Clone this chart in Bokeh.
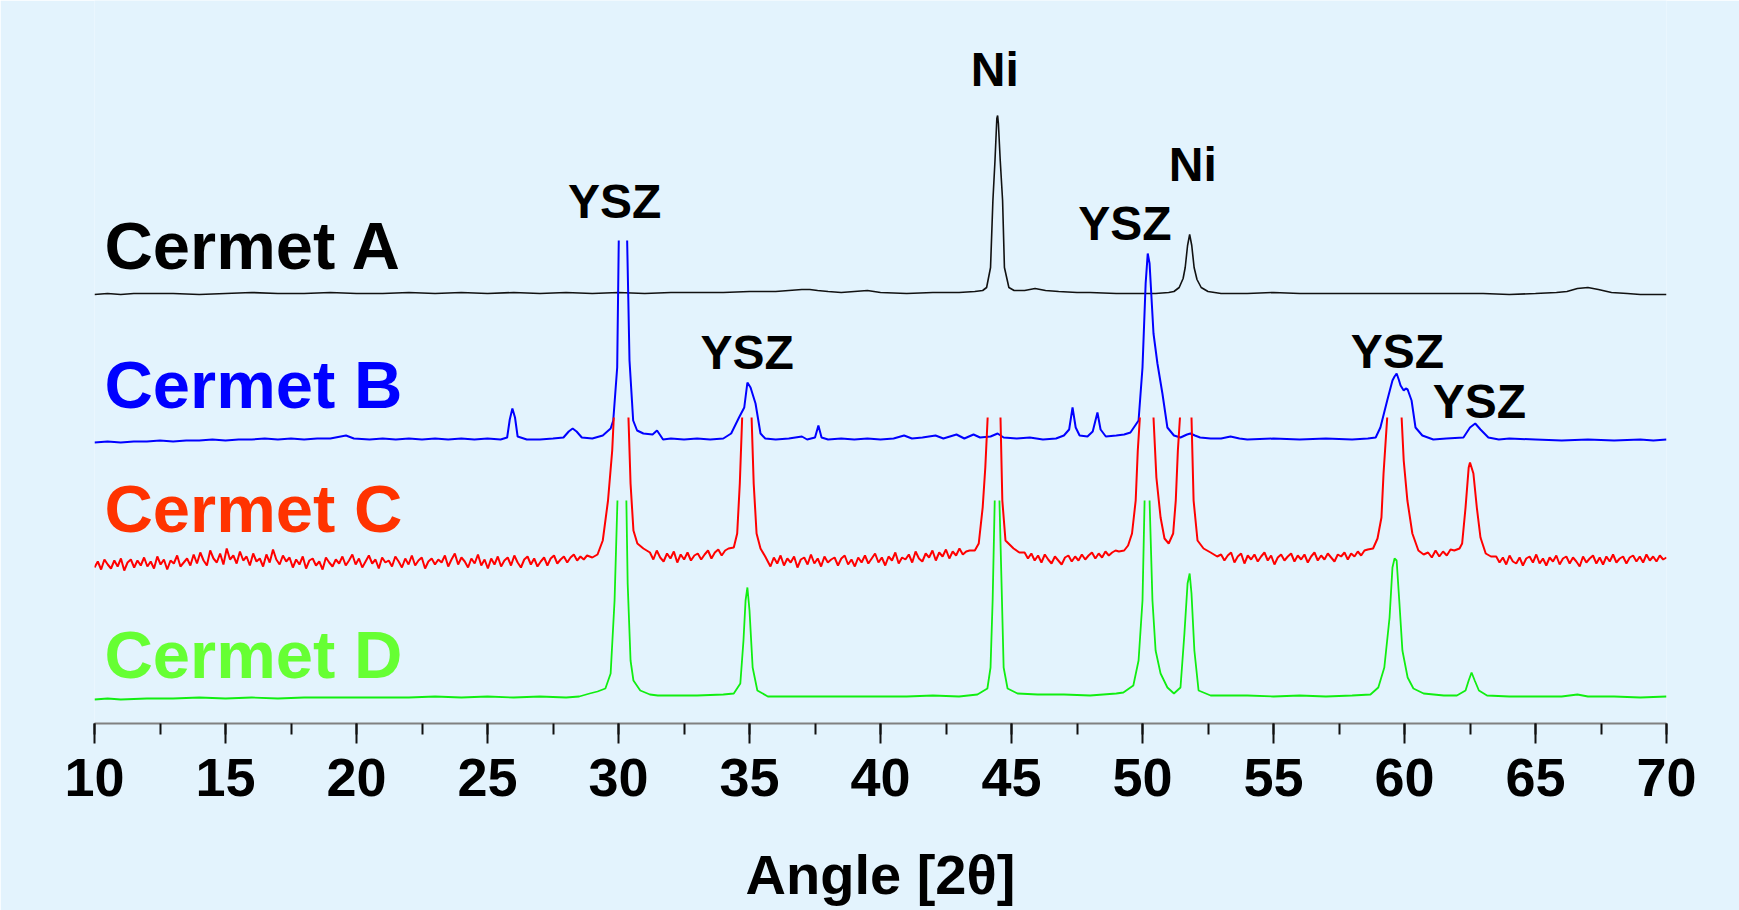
import numpy as np
from bokeh.plotting import figure
from bokeh.models import Range1d, SingleIntervalTicker, ColumnDataSource
from bokeh.embed import file_html
from bokeh.resources import INLINE
from bokeh.core.properties import value

NAN = float("nan")

# ---------------- data (angle 2theta, intensity a.u. above each baseline) ----------------
CERMET_A = [(10.0, -1), (10.5, 0), (11.0, -1), (11.5, 0), (12.0, 0), (13.0, 0), (14.0, -1), (15.0, 0),
            (16.0, 1), (17.0, 0), (18.0, 0), (19.0, 1), (20.0, 0), (21.0, 0), (22.0, 1), (23.0, 0),
            (24.0, 1), (25.0, 0), (26.0, 1), (27.0, 0), (28.0, 1), (29.0, 0), (30.0, 1), (31.0, 0),
            (32.0, 1), (33.0, 1), (34.0, 1), (35.0, 2), (36.0, 2), (36.5, 3), (37.0, 4), (37.3, 4),
            (37.6, 3), (38.0, 2), (38.5, 1), (39.0, 2), (39.5, 3), (40.0, 1), (41.0, 0), (42.0, 1),
            (43.0, 1), (43.6, 2), (43.9, 3), (44.05, 6), (44.2, 26), (44.29, 93), (44.37, 133),
            (44.44, 175), (44.47, 178), (44.5, 170), (44.57, 133), (44.66, 93), (44.73, 26),
            (44.9, 6), (45.1, 3), (45.5, 3), (45.9, 5), (46.3, 3), (46.8, 2), (47.5, 1), (48.0, 1),
            (49.0, 0), (50.0, 0), (50.5, 0), (51.0, 1), (51.2, 2), (51.4, 6), (51.55, 15),
            (51.63, 26), (51.72, 48), (51.8, 59), (51.88, 48), (51.97, 26), (52.08, 14),
            (52.24, 6), (52.5, 2), (53.0, 0), (54.0, 0), (55.0, 1), (56.0, 0), (57.0, 0), (58.0, 0),
            (59.0, 0), (60.0, 0), (61.0, 0), (62.0, 0), (63.0, 0), (64.0, -1), (65.0, 0), (65.8, 1),
            (66.2, 2), (66.6, 5), (67.0, 6), (67.4, 4), (67.9, 1), (68.5, 0), (69.0, -1), (69.5, -1),
            (70.0, -1)]

CERMET_B = [(10.0, -3), (10.5, -2), (11.0, -3), (11.5, -2), (12.0, -2), (12.5, -1), (13.0, -2), (13.5, -1),
            (14.0, -1), (14.5, 0), (15.0, -1), (15.5, 0), (16.0, 0), (16.5, 1), (17.0, 0), (17.5, 1),
            (18.0, 0), (18.5, 1), (19.0, 1), (19.4, 3), (19.6, 4), (19.9, 1), (20.5, 0), (21.0, 1),
            (21.5, 0), (22.0, 1), (22.5, 0), (23.0, 1), (23.5, 0), (24.0, 1), (24.5, 0), (25.0, 1),
            (25.5, 0), (25.75, 2), (25.85, 20), (25.95, 31), (26.05, 22), (26.15, 3), (26.5, 0),
            (27.0, 0), (27.5, 1), (27.9, 2), (28.1, 8), (28.25, 11), (28.4, 8), (28.6, 2), (29.0, 1),
            (29.4, 4), (29.7, 11), (29.8, 19), (29.95, 72), (30.01, 199), (30.17, NAN), (30.33, 199),
            (30.42, 79), (30.56, 19), (30.71, 9), (30.95, 6), (31.3, 5), (31.47, 9), (31.6, 4),
            (31.7, 0), (32.0, 1), (32.5, 0), (33.0, 1), (33.5, 0), (34.0, 1), (34.3, 6), (34.6, 22),
            (34.8, 32), (34.92, 57), (35.04, 52), (35.23, 36), (35.42, 6), (35.6, 1), (36.0, 0),
            (36.5, 1), (37.0, 3), (37.2, 0), (37.5, 2), (37.63, 14), (37.75, 2), (38.0, 0), (38.5, 1),
            (39.0, 0), (39.5, 1), (40.0, 0), (40.5, 1), (40.9, 4), (41.2, 1), (41.6, 2), (42.1, 4),
            (42.4, 1), (42.9, 5), (43.2, 1), (43.55, 5), (43.8, 2), (44.2, 3), (44.47, 6), (44.7, 2),
            (45.2, 1), (45.7, 2), (46.2, 0), (46.7, 1), (47.0, 4), (47.2, 10), (47.33, 32),
            (47.45, 12), (47.6, 4), (47.9, 3), (48.1, 8), (48.28, 27), (48.4, 10), (48.6, 3),
            (49.0, 4), (49.3, 5), (49.54, 7), (49.85, 19), (50.0, 72), (50.12, 156), (50.2, 186),
            (50.27, 176), (50.42, 106), (50.57, 76), (50.76, 46), (50.95, 12), (51.2, 4),
            (51.45, 2), (51.7, 5), (51.83, 6), (52.0, 4), (52.2, 2), (52.6, 1), (53.0, 1),
            (53.36, 3), (53.7, 1), (54.0, 0), (55.0, 1), (56.0, 0), (57.0, 1), (58.0, 0), (58.6, 1),
            (58.9, 2), (59.08, 12), (59.34, 39), (59.54, 59), (59.62, 63), (59.7, 66), (59.78, 60),
            (59.85, 54), (59.97, 49), (60.05, 51), (60.12, 50), (60.27, 39), (60.42, 12),
            (60.68, 4), (61.1, 0), (61.6, 1), (62.25, 2), (62.5, 12), (62.7, 16), (62.9, 10),
            (63.2, 2), (63.6, 0), (64.0, 1), (65.0, 0), (66.0, -1), (67.0, 0), (68.0, -1),
            (69.0, 0), (69.5, -1), (70.0, 0)]

# Cermet C: peaks (NaN = off scale) plus noisy background stretches (start, stop, readings)
CERMET_C_PEAKS = [(29.0, 5), (29.2, 8), (29.4, 22), (29.6, 62), (29.76, 112), (29.82, 145), (30.1, NAN),
                  (30.38, 145), (30.46, 79), (30.57, 32), (30.72, 19), (30.95, 14),
                  (34.4, 15), (34.53, 29), (34.63, 79), (34.72, 145), (34.9, NAN), (35.08, 145),
                  (35.16, 79), (35.27, 29), (35.42, 14), (35.6, 6),
                  (43.6, 12), (43.75, 19), (43.9, 55), (44.0, 95), (44.09, 145), (44.33, NAN),
                  (44.58, 145), (44.65, 62), (44.77, 22), (45.08, 14), (45.3, 10),
                  (49.3, 12), (49.45, 17), (49.6, 29), (49.74, 62), (49.82, 112), (49.9, 145),
                  (50.16, NAN), (50.42, 145), (50.53, 85), (50.69, 45), (50.84, 24), (51.0, 19),
                  (51.17, 29), (51.27, 62), (51.35, 112), (51.43, 145), (51.65, NAN), (51.87, 145),
                  (51.95, 62), (52.1, 22), (52.33, 14), (52.6, 10), (52.85, 6),
                  (58.8, 14), (58.97, 24), (59.12, 45), (59.2, 89), (59.34, 145), (59.6, NAN),
                  (59.89, 145), (59.97, 102), (60.11, 62), (60.3, 29), (60.53, 12), (60.73, 8),
                  (62.1, 14), (62.2, 19), (62.33, 55), (62.45, 95), (62.5, 100), (62.63, 89),
                  (62.76, 55), (62.9, 25), (63.1, 9), (63.3, 6)]

CERMET_C_BACKGROUND = [
    (10.0, 28.8, [-5, 1, -7, 3, -2, -6, 2, -4, 4, -8, 0, 3, -5, 2, -3,
                  5, -4, 1, -6, 6, -2, 3, -7, 2, -1, 7, -4, 0, 4, -3,
                  8, -1, 10, 2, -3, 12, 4, 0, 9, -2, 14, 3, 7, -1, 11,
                  2, 6, -3, 9, 1, 4, -4, 8, 0, 13, 3, -2, 7, 1, 5,
                  -5, 3, -2, 6, -6, 2, 4, -3, 1, -7, 5, 0, -4, 3, -1,
                  6, -3, 2, 8, -2, 4, -5, 1, 7, -1, 3, -6, 5, 0, 2,
                  -4, 6, 1, -5, 4, -2, 7, -3, 2, 5, -6, 1, 4, -2, 3,
                  0, 7, -4, 3, 9, -2, 5, 1, -5, 4, -1, 8, -3, 3, -6,
                  4, -2, 6, -4, 2, 5, -3, 7, 0, -5, 3, 6, -2, 4, -4,
                  1, 5, -3, 4, 7, -1, 3, 6, 0, 5, 8, 2, 6, 3, 7]),
    (31.2, 34.2, [10, 3, 12, 5, 1, 9, 4, 11, 0, 8, 3, 10, 2, 7, 9, 3, 8, 12, 4, 10, 13, 7, 12, 14]),
    (35.8, 43.4, [-4, 5, -1, 7, -3, 4, 0, 6, -5, 3, 5, -2, 8, -1, 4, -4, 6, 0, 3, 5,
                  -3, 4, 7, -2, 3, -4, 5, 0, 7, -1, 4, 9, 0, 5, -3, 6, 2, 10, -1, 5,
                  3, 8, 0, 11, 4, 1, 9, 5, 12, 2, 10, 6, 13, 4, 11, 7, 14, 8, 11, 12]),
    (45.5, 49.1, [10, 4, 9, 2, 7, 0, 8, 3, -1, 6, 2, -2, 5, 7, 1, 6, 2, 8, 3, 7, 10, 4, 9, 5, 11,
                  7, 10, 12, 11]),
    (53.0, 58.6, [8, 2, 7, 10, 0, 6, 9, -1, 7, 3, 8, 1, 6, 10, 2, 7, -2, 5, 8, 2,
                  6, 9, 1, 7, 3, 8, 0, 6, 10, 2, 7, 3, 9, 5, 1, 8, 6, 10, 3, 9,
                  6, 11, 7, 12, 13]),
    (60.9, 61.9, [10, 5, 12, 6, 11, 7, 13, 12]),
    (63.5, 70.0, [6, 0, 5, -2, 7, 1, -1, 5, -3, 4, 6, 0, 8, -1, 4, -3, 5, 1, 7, -2,
                  4, 6, -1, 5, 1, -4, 6, 0, 4, 7, -1, 5, -2, 6, 1, 8, 0, 4, 6, -1,
                  5, 7, 1, 6, 0, 8, 2, 6, 1, 7, 3, 5]),
]

CERMET_D = [(10.0, -1), (10.5, 0), (11.0, -1), (12.0, 0), (13.0, 0), (14.0, 1), (15.0, 0), (16.0, 1),
            (17.0, 0), (18.0, 1), (19.0, 1), (20.0, 1), (21.0, 1), (22.0, 1), (23.0, 2), (24.0, 1),
            (25.0, 2), (26.0, 1), (27.0, 2), (28.0, 1), (28.5, 2), (28.9, 5), (29.2, 7), (29.5, 10),
            (29.7, 25), (29.85, 98), (29.96, 198), (30.13, NAN), (30.3, 198), (30.35, 115),
            (30.46, 38), (30.57, 18), (30.83, 8), (31.2, 4), (31.5, 3), (32.0, 3), (33.0, 3),
            (34.0, 4), (34.4, 5), (34.65, 15), (34.77, 58), (34.85, 98), (34.92, 111), (35.0, 88),
            (35.12, 31), (35.3, 8), (35.7, 2), (36.0, 2), (37.0, 2), (38.0, 2), (39.0, 2), (40.0, 2),
            (41.0, 2), (42.0, 3), (43.0, 2), (43.7, 4), (44.08, 10), (44.2, 31), (44.28, 98),
            (44.36, 198), (44.45, NAN), (44.54, 198), (44.62, 115), (44.7, 31), (44.85, 10),
            (45.23, 5), (46.0, 4), (47.0, 4), (48.0, 3), (49.0, 5), (49.27, 6), (49.65, 13),
            (49.85, 38), (50.0, 98), (50.08, 198), (50.17, NAN), (50.27, 198), (50.38, 98),
            (50.5, 48), (50.69, 25), (50.95, 11), (51.2, 5), (51.45, 11), (51.6, 65), (51.72, 115),
            (51.8, 125), (51.87, 105), (51.98, 48), (52.14, 8), (52.6, 3), (53.0, 3), (54.0, 3),
            (55.0, 2), (56.0, 3), (57.0, 2), (58.0, 3), (58.7, 4), (59.0, 11), (59.23, 31),
            (59.43, 81), (59.54, 131), (59.62, 140), (59.7, 138), (59.8, 98), (59.92, 48),
            (60.12, 21), (60.34, 10), (60.73, 5), (61.5, 3), (62.0, 3), (62.33, 8), (62.45, 18),
            (62.56, 26), (62.68, 18), (62.84, 8), (63.15, 3), (64.0, 2), (65.0, 2), (66.0, 2),
            (66.6, 4), (67.0, 2), (68.0, 2), (69.0, 1), (70.0, 2)]

SAMPLE_NAMES = ["Cermet A", "Cermet B", "Cermet C", "Cermet D"]
SAMPLE_OFFSETS = [430, 284, 161, 25]          # vertical stacking of the patterns
SAMPLE_NAME_HEIGHT = [478, 339, 215, 69]

PEAK_LABELS = ["Ni", "Ni", "YSZ", "YSZ", "YSZ", "YSZ", "YSZ"]
PEAK_LABEL_ANGLE = [44.36, 51.92, 29.85, 49.33, 34.91, 59.73, 62.86]
PEAK_LABEL_HEIGHT = [654, 559, 522, 500, 371, 372, 322]

# ---------------- build ----------------
def unzip(pairs):
    a = np.array([p[0] for p in pairs], dtype=float)
    b = np.array([p[1] for p in pairs], dtype=float)
    return a, b

c_pairs = list(CERMET_C_PEAKS)
for start, stop, vals in CERMET_C_BACKGROUND:
    xs = np.linspace(start, stop, len(vals))
    c_pairs += list(zip(xs, vals))
c_pairs.sort(key=lambda t: t[0])

series = [CERMET_A, CERMET_B, c_pairs, CERMET_D]
line_colors = ["#111111", "#0000FF", "#FF0000", "#11EE11"]
line_widths = [1.6, 2.0, 2.0, 1.8]
name_colors = ["#000000", "#0000FF", "#FF3300", "#66FF33"]

BG = "#E3F3FD"
FONT = "Liberation Sans"

p = figure(width=1739, height=910, x_range=Range1d(10, 70), y_range=Range1d(0, 723),
           output_backend="svg", toolbar_location=None, y_axis_location=None,
           min_border_left=94, min_border_right=73, min_border_top=0, min_border_bottom=187,
           background_fill_color=BG, border_fill_color=BG, outline_line_color=None)
p.grid.visible = False

for pairs, off, col, lw in zip(series, SAMPLE_OFFSETS, line_colors, line_widths):
    ang, inten = unzip(pairs)
    p.line(ang, inten + off, line_color=col, line_width=lw)

name_src = ColumnDataSource(dict(x=[10.38] * 4, y=SAMPLE_NAME_HEIGHT, t=SAMPLE_NAMES, c=name_colors))
p.text(x="x", y="y", text="t", text_color="c", source=name_src, text_font=value(FONT),
       text_font_style="bold", text_font_size="67px", text_align="left", text_baseline="alphabetic")

peak_src = ColumnDataSource(dict(x=PEAK_LABEL_ANGLE, y=PEAK_LABEL_HEIGHT, t=PEAK_LABELS))
p.text(x="x", y="y", text="t", source=peak_src, text_color="#000000", text_font=value(FONT),
       text_font_style="bold", text_font_size="48px", text_align="center", text_baseline="alphabetic")

ax = p.xaxis[0]
ax.ticker = SingleIntervalTicker(interval=5, num_minor_ticks=2)
ax.axis_line_color = "#808080"
ax.axis_line_width = 2
ax.major_tick_line_color = "#111111"
ax.major_tick_line_width = 2
ax.minor_tick_line_color = "#111111"
ax.minor_tick_line_width = 2
ax.major_tick_in = 0
ax.major_tick_out = 20
ax.minor_tick_in = 0
ax.minor_tick_out = 11
ax.major_label_text_font = FONT
ax.major_label_text_font_size = "54px"
ax.major_label_text_font_style = "bold"
ax.major_label_text_color = "#000000"
ax.major_label_standoff = 15
ax.axis_label = "Angle [2\u03b8]"
ax.axis_label_text_font = FONT
ax.axis_label_text_font_size = "56px"
ax.axis_label_text_font_style = "bold"
ax.axis_label_text_color = "#000000"
ax.axis_label_standoff = 44

open("out.html", "w").write(file_html(p, INLINE))
